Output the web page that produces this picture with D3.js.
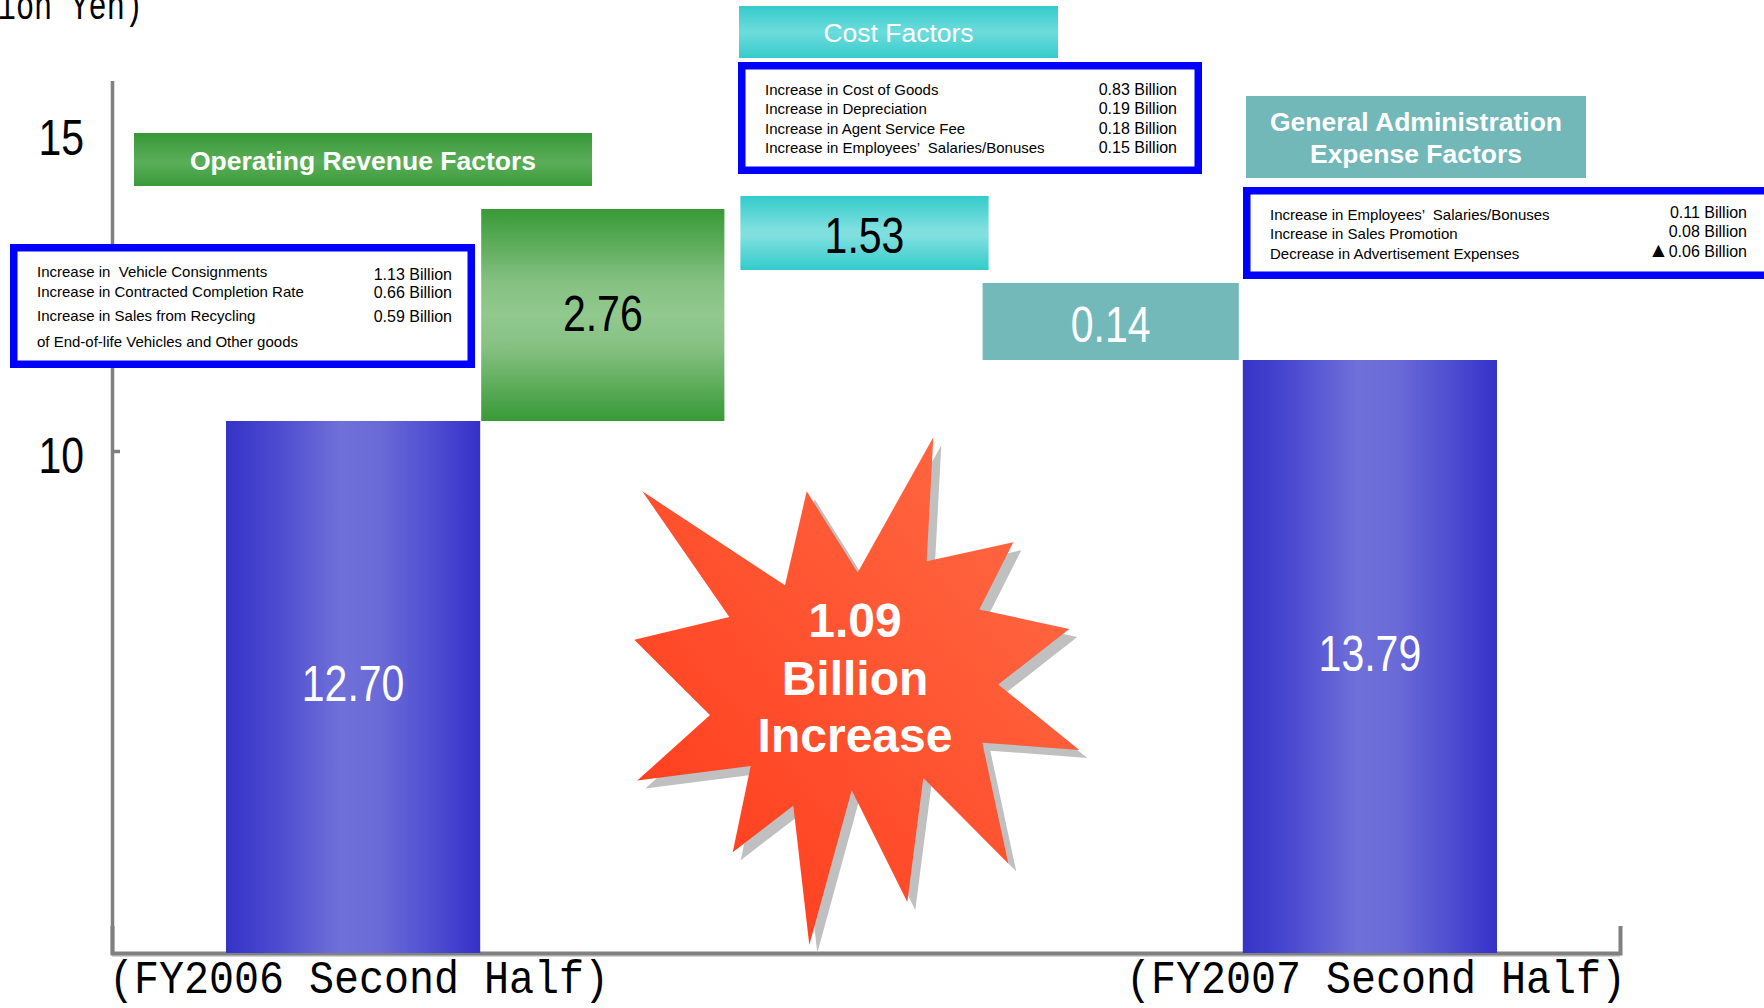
<!DOCTYPE html>
<html><head><meta charset="utf-8">
<script src="https://cdn.jsdelivr.net/npm/d3@7/dist/d3.min.js"></script>
<style>
html,body{margin:0;padding:0;background:#fff;overflow:hidden}
svg{display:block}
text{white-space:pre}
</style></head>
<body>
<svg id="chart" width="1764" height="1008"></svg>
<script>
// ---------------- DATA ----------------
const categories = ["FY2006H2", "Revenue", "Cost", "GA", "FY2007H2"];
const categoryLabels = ["(FY2006 Second Half)", "", "", "", "(FY2007 Second Half)"];
const stepKinds = ["total", "up", "down", "down", "total"];
const stepValues = [12.70, 2.76, -1.53, -0.14, 13.79];
const valueLabels = ["12.70", "2.76", "1.53", "0.14", "13.79"];
const yTickValues = [10, 15];
const unitLabel = "(Billion Yen)";
const burstLines = ["1.09", "Billion", "Increase"];

const revenueTitle = ["Operating Revenue Factors"];
const revenueItems = ["Increase in  Vehicle Consignments", "Increase in Contracted Completion Rate", "Increase in Sales from Recycling", "of End-of-life Vehicles and Other goods"];
const revenueAmounts = ["1.13 Billion", "0.66 Billion", "0.59 Billion"];

const costTitle = ["Cost Factors"];
const costItems = ["Increase in Cost of Goods", "Increase in Depreciation", "Increase in Agent Service Fee", "Increase in Employees\u2019  Salaries/Bonuses"];
const costAmounts = ["0.83 Billion", "0.19 Billion", "0.18 Billion", "0.15 Billion"];

const gaTitle = ["General Administration", "Expense Factors"];
const gaItems = ["Increase in Employees\u2019  Salaries/Bonuses", "Increase in Sales Promotion", "Decrease in Advertisement Expenses"];
const gaAmounts = ["0.11 Billion", "0.08 Billion", "\u25B20.06 Billion"];

// ---------------- LAYOUT ----------------
const svg = d3.select("#chart");
const defs = svg.append("defs");
const NARROW = "'Liberation Sans Narrow','Liberation Sans',Arial,sans-serif";
const SANS = "'Liberation Sans',Arial,sans-serif";
const MONO = "'Liberation Mono','DejaVu Sans Mono',monospace";

// narrow-digit width (em) used to squeeze numbers like a condensed gothic face
function narrowLen(s, fs) {
  let w = 0;
  for (const ch of String(s)) w += (ch === "." ? 0.228 : 0.456);
  return w * fs;
}

function grad(id, x1, y1, x2, y2, stops) {
  const g = defs.append("linearGradient").attr("id", id)
    .attr("x1", x1).attr("y1", y1).attr("x2", x2).attr("y2", y2);
  stops.forEach(([o, c]) => g.append("stop").attr("offset", o).attr("stop-color", c));
}
grad("gBlue", 0, 0, 1, 0, [[0, "#3433c8"], [0.2, "#4c4bd0"], [0.45, "#7070d9"], [0.6, "#6b6bd8"], [0.8, "#5050d2"], [1, "#3431c8"]]);
grad("gGreen", 0, 0, 0, 1, [[0, "#389a36"], [0.35, "#86c183"], [0.5, "#92c98e"], [0.65, "#86c183"], [1, "#389a36"]]);
grad("gCyan", 0, 0, 0, 1, [[0, "#33cbcb"], [0.45, "#7fdfdf"], [0.55, "#7fdfdf"], [1, "#33cbcb"]]);
grad("gCyanTitle", 0, 0, 0, 1, [[0, "#37cbcb"], [0.5, "#6ddcdc"], [1, "#37cbcb"]]);
grad("gGreenTitle", 0, 0, 0, 1, [[0, "#379837"], [0.55, "#5aae58"], [1, "#3a9b3a"]]);
grad("gBurst", 0, 1, 1, 0, [[0, "#ff3818"], [1, "#ff6e48"]]);

// waterfall levels
let running = 0;
const steps = categories.map((c, i) => {
  let y0, y1;
  if (stepKinds[i] === "total") { y0 = 0; y1 = stepValues[i]; running = y1; }
  else { y0 = running; y1 = running + stepValues[i]; running = y1; }
  return { cat: c, kind: stepKinds[i], y0, y1, label: valueLabels[i], idx: i };
});

// x: band scale across the axis
const x = d3.scaleBand().domain(categories).range([112, 1620])
  .paddingInner(0).paddingOuter(0.4662).align(0.481);
// small per-column insets [left, right] (the slide's boxes are not perfectly aligned)
const bandInset = [[0, 0], [1, 10], [6, 0], [-6, 4], [0, 0]];

// y for bars: schematic (piecewise) scale as in the original slide
const knots = Array.from(new Set(steps.flatMap(s => [s.y0, s.y1]))).sort((a, b) => a - b);
const yBar = d3.scaleLinear().domain(knots).range([953, 421, 360, 283, 209]);

// y for axis ticks
const yAx = d3.scaleLinear().domain([10, 15]).range([451, 133]);

// ---- axes ----
svg.append("line").attr("x1", 112.5).attr("x2", 112.5).attr("y1", 81).attr("y2", 953)
  .attr("stroke", "#808080").attr("stroke-width", 3.5);

const gy = svg.append("g").attr("transform", "translate(112,0)")
  .call(d3.axisLeft(yAx).tickValues(yTickValues).tickFormat(d3.format("d"))
    .tickSizeInner(-8).tickSizeOuter(0).tickPadding(28));
gy.select(".domain").remove();
gy.selectAll(".tick line").attr("stroke", "#808080").attr("stroke-width", 3.5)
  .attr("display", d => d === 10 ? null : "none");
gy.selectAll(".tick text").attr("font-family", NARROW).attr("font-size", 50)
  .attr("fill", "#000").attr("dy", "0.43em")
  .attr("textLength", d => narrowLen(d, 50)).attr("lengthAdjust", "spacingAndGlyphs");

// x axis
svg.append("line").attr("x1", 112).attr("x2", 1620).attr("y1", 956).attr("y2", 956)
  .attr("stroke", "#d4d4d4").attr("stroke-width", 2);
const gx = svg.append("g").attr("transform", "translate(0,953)")
  .call(d3.axisBottom(x).tickValues([categories[0], categories[4]])
    .tickFormat(c => categoryLabels[categories.indexOf(c)])
    .tickSizeInner(0).tickSizeOuter(-27).tickPadding(0));
gx.select(".domain").attr("stroke", "#808080").attr("stroke-width", 4);
gx.selectAll(".tick text").attr("font-family", MONO).attr("font-size", 47)
  .attr("fill", "#000").attr("y", 40).attr("dy", 0).attr("dx", 6)
  .attr("textLength", 500).attr("lengthAdjust", "spacingAndGlyphs");

// unit label (partly outside the frame as in the original)
svg.append("text").attr("x", 143).attr("y", 19).attr("text-anchor", "end")
  .attr("font-family", MONO).attr("font-size", 40)
  .attr("textLength", 236).attr("lengthAdjust", "spacingAndGlyphs")
  .text(unitLabel);

// ---- bars ----
const fills = { total: "url(#gBlue)", up: "url(#gGreen)" };
const downFill = ["url(#gCyan)", "#74b9b9"];
const lift = { Cost: 13, GA: 0 };
const labelColor = ["#fff", "#000", "#000", "#fff", "#fff"];
const labelShift = { total: 14, up: 16, down: 20 };

const bars = svg.append("g").selectAll("g").data(steps).join("g");
bars.append("rect")
  .attr("x", d => x(d.cat) + bandInset[d.idx][0])
  .attr("width", d => x.bandwidth() - bandInset[d.idx][0] - bandInset[d.idx][1])
  .attr("y", d => Math.min(yBar(d.y0), yBar(d.y1)) - (lift[d.cat] || 0))
  .attr("height", d => Math.abs(yBar(d.y0) - yBar(d.y1)))
  .attr("fill", d => d.kind === "down" ? downFill[d.idx - 2] : fills[d.kind]);
bars.append("text")
  .attr("x", d => x(d.cat) + (x.bandwidth() + bandInset[d.idx][0] - bandInset[d.idx][1]) / 2)
  .attr("y", d => (yBar(d.y0) + yBar(d.y1)) / 2 - (lift[d.cat] || 0) + labelShift[d.kind])
  .attr("text-anchor", "middle")
  .attr("font-family", NARROW).attr("font-size", 50)
  .attr("textLength", d => narrowLen(d.label, 50)).attr("lengthAdjust", "spacingAndGlyphs")
  .attr("fill", d => labelColor[d.idx])
  .text(d => d.label);

// ---- factor titles ----
function titleBox(b, fill, lines, bold, baselines) {
  svg.append("rect").attr("x", b.x).attr("y", b.y).attr("width", b.w).attr("height", b.h).attr("fill", fill);
  lines.forEach((t, i) => svg.append("text").attr("x", b.x + b.w / 2).attr("y", baselines[i])
    .attr("text-anchor", "middle").attr("font-family", SANS).attr("font-size", 26.5)
    .attr("font-weight", bold ? "bold" : "normal").attr("fill", "#fff").text(t));
}
titleBox({ x: 134, y: 133, w: 458, h: 53 }, "url(#gGreenTitle)", revenueTitle, true, [170]);
titleBox({ x: 739, y: 6, w: 319, h: 52 }, "url(#gCyanTitle)", costTitle, false, [42]);
titleBox({ x: 1246, y: 96, w: 340, h: 82 }, "#72b8b8", gaTitle, true, [131, 163]);

// ---- factor detail boxes ----
function detailBox(b, items, amounts, itemY, amtY, labelX, amtX) {
  svg.append("rect").attr("x", b.x + 3.75).attr("y", b.y + 3.75)
    .attr("width", b.w - 7.5).attr("height", b.h - 7.5)
    .attr("fill", "#fff").attr("stroke", "#0000ff").attr("stroke-width", 7.5);
  items.forEach((t, i) => svg.append("text").attr("x", labelX).attr("y", itemY[i])
    .attr("font-family", SANS).attr("font-size", 15).attr("fill", "#000").text(t));
  amounts.forEach((t, i) => {
    const tx = svg.append("text").attr("x", amtX).attr("y", amtY[i])
      .attr("text-anchor", "end").attr("font-family", SANS).attr("font-size", 16).attr("fill", "#000");
    if (t.startsWith("\u25B2")) {
      tx.append("tspan").attr("font-size", 21).text("\u25B2");
      tx.append("tspan").text(t.slice(1));
    } else tx.text(t);
  });
}
detailBox({ x: 10, y: 244, w: 465, h: 124 }, revenueItems, revenueAmounts,
  [277, 297, 321, 347], [280, 298, 322], 37, 452);
detailBox({ x: 738, y: 62, w: 464, h: 112 }, costItems, costAmounts,
  [95, 114, 134, 153], [95, 114, 134, 153], 765, 1177);
detailBox({ x: 1243, y: 187, w: 530, h: 92 }, gaItems, gaAmounts,
  [220, 239, 259], [218, 237, 257], 1270, 1747);

// ---- burst callout ----
const burst = [[933.3,437.2],[926.7,561.2],[1013.3,542.2],[979.3,609.4],[1069.3,629],[998.3,684.5],
  [1079.3,749.9],[982.3,742.7],[1008.3,863.5],[923.3,778.1],[907.3,902.1],[851.7,790.2],
  [809.3,945.1],[793.3,805.7],[732.7,852.2],[750.7,766.1],[637.3,780.5],[710,715.1],
  [634.3,639.7],[729.3,617],[642.3,491.3],[785,585.3],[806.7,491.3],[857.7,572.5]];
const line = d3.line().curve(d3.curveLinearClosed);
svg.append("path").attr("d", line(burst)).attr("fill", "#c0c0c0").attr("transform", "translate(8,8)");
svg.append("path").attr("d", line(burst)).attr("fill", "url(#gBurst)");
burstLines.forEach((t, i) => svg.append("text").attr("x", 855).attr("y", [637, 695, 752][i])
  .attr("text-anchor", "middle").attr("font-family", SANS).attr("font-weight", "bold")
  .attr("font-size", 48).attr("fill", "#fff").text(t));
</script>
</body></html>
